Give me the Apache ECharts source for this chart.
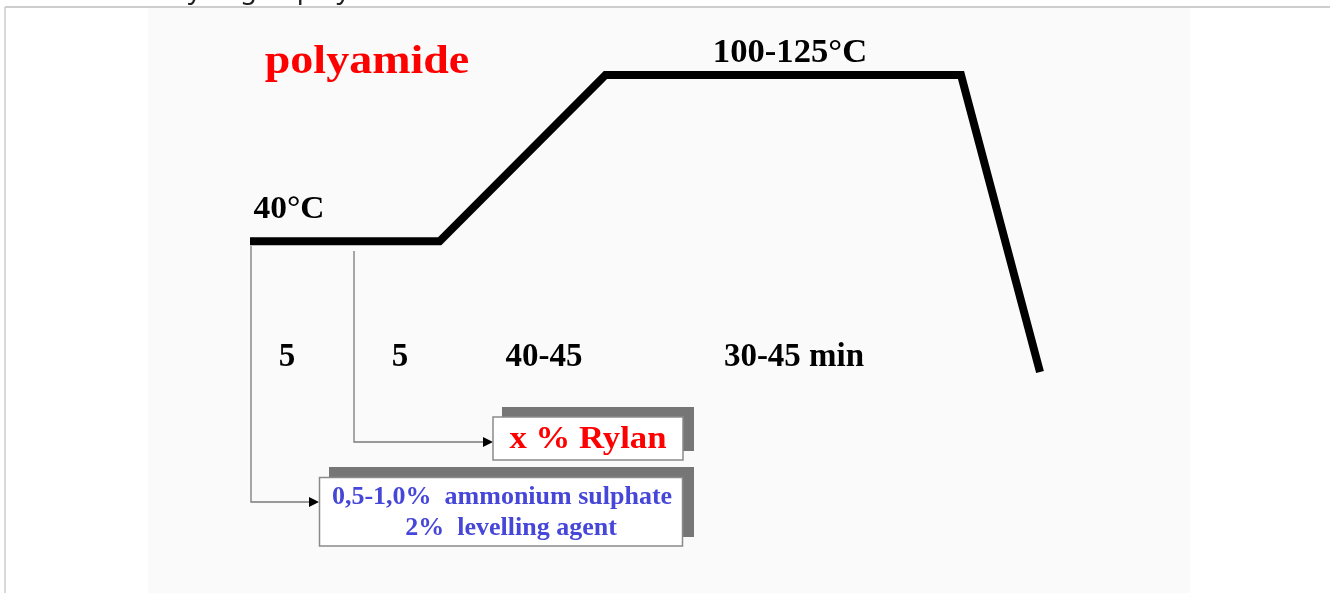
<!DOCTYPE html>
<html>
<head>
<meta charset="utf-8">
<title>polyamide</title>
<script src="https://cdn.jsdelivr.net/npm/echarts@6/dist/echarts.min.js"></script>
<style>
  html, body {margin: 0; padding: 0; background: #fff;}
  #chart {width: 1330px; height: 593px;}
</style>
</head>
<body>
<div id="chart"></div>
<script>
  // temperature profile (schematic time position, temperature)
  const stepTime = [0, 24, 45, 90, 100]
  const stepTemp = [40, 40, 110, 110, -15]

  // texts on the picture
  const titleText = 'polyamide'
  const startTempText = '40°C'
  const dyeTempText = '100-125°C'
  const durationLabels = ['5', '5', '40-45', '30-45 min']
  const rylanText = 'x % Rylan'
  const bathLines = ['0,5-1,0%  ammonium sulphate', '2%  levelling agent']

  const serif = 'Liberation Serif, Times New Roman, serif'

  let chart = echarts.init(document.getElementById('chart'))

  function txt (text, x, y, size, color, sx) {
    return {
      type: 'text',
      x: x,
      y: y,
      scaleX: sx || 1,
      z: 20,
      style: {
        text: text,
        fill: color,
        font: 'bold ' + size + 'px ' + serif,
        align: 'center',
        verticalAlign: 'middle'
      }
    }
  }

  let durX = [287, 400, 544, 794]   // where each duration label sits

  chart.setOption({
    animation: false,
    backgroundColor: '#fff',
    grid: {left: 250, right: 290, top: 75, bottom: 221},
    xAxis: {type: 'value', min: 0, max: 100, show: false},
    yAxis: {type: 'value', min: -15, max: 110, show: false},
    series: [
      {
        type: 'line',
        data: stepTime.map((t, i) => [t, stepTemp[i]]),
        symbol: 'none',
        clip: false,
        z: 10,
        lineStyle: {color: '#000', width: 8, join: 'miter', cap: 'butt'}
      }
    ],
    graphic: [
      // frame of the page and the picture background
      {type: 'rect', z: -10, silent: true, shape: {x: 148, y: 8, width: 1042, height: 585}, style: {fill: '#fafafa'}},
      {type: 'line', z: 5, shape: {x1: 5, y1: 7, x2: 1330, y2: 7}, style: {stroke: '#cdcdcd', lineWidth: 2}},
      {type: 'line', z: 5, shape: {x1: 5, y1: 7, x2: 5, y2: 593}, style: {stroke: '#cdcdcd', lineWidth: 1.5}},
      {
        type: 'text', x: 168, y: 4, z: 5,
        style: {text: 'Dyeing of polyamide', fill: '#222', font: '27px Noto Sans', verticalAlign: 'bottom'}
      },

      // connectors
      {type: 'polyline', z: 6, shape: {points: [[251, 246], [251, 502], [312, 502]]}, style: {stroke: '#7a7a7a', lineWidth: 1.3, fill: null}},
      {type: 'polygon', z: 6, shape: {points: [[309, 497], [319, 502], [309, 507]]}, style: {fill: '#000'}},
      {type: 'polyline', z: 6, shape: {points: [[354, 251], [354, 442], [486, 442]]}, style: {stroke: '#7a7a7a', lineWidth: 1.3, fill: null}},
      {type: 'polygon', z: 6, shape: {points: [[483, 437], [493, 442], [483, 447]]}, style: {fill: '#000'}},

      // Rylan box
      {type: 'rect', z: 7, shape: {x: 502, y: 407, width: 192, height: 44}, style: {fill: '#767676'}},
      {type: 'rect', z: 8, shape: {x: 493, y: 417, width: 190, height: 43}, style: {fill: '#fff', stroke: '#8a8a8a', lineWidth: 1.5}},
      txt(rylanText, 588, 440, 31, '#f00', 1.12),

      // ammonium sulphate box
      {type: 'rect', z: 7, shape: {x: 329, y: 467, width: 365, height: 70}, style: {fill: '#767676'}},
      {type: 'rect', z: 8, shape: {x: 319.5, y: 477.5, width: 363, height: 68.5}, style: {fill: '#fff', stroke: '#8a8a8a', lineWidth: 1.5}},
      txt(bathLines[0], 502, 497, 26, '#4646d8'),
      txt(bathLines[1], 511, 528, 26, '#4646d8'),

      // labels
      txt(titleText, 367, 63, 40, '#f00', 1.15),
      txt(startTempText, 289, 210, 31, '#000', 1.08),
      txt(dyeTempText, 790, 53, 33, '#000', 1.05)
    ].concat(durationLabels.map((d, i) => txt(d, durX[i], 357, 33, '#000')))
  })
</script>
</body>
</html>
